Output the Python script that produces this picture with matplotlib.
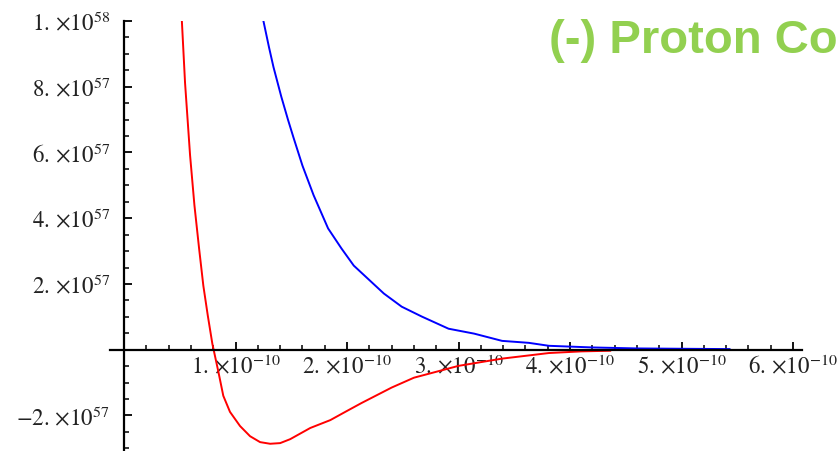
import matplotlib
matplotlib.use('Agg')
import matplotlib.pyplot as plt
from matplotlib.ticker import FixedLocator, FixedFormatter

plt.rcParams['mathtext.fontset'] = 'stix'

# values, x in units of 1e-10, y in units of 1e57
red_x = [0.50, 0.517, 0.547, 0.592, 0.631, 0.673, 0.711, 0.751, 0.792, 0.846, 0.89, 0.95,
         1.04, 1.13, 1.22, 1.31, 1.40, 1.49, 1.67, 1.85, 2.00, 2.13, 2.40, 2.60,
         3.00, 3.39, 3.81, 4.10, 4.36]
red_y = [10.5, 10.1, 8.12, 5.92, 4.40, 3.08, 1.95, 1.04, 0.18, -0.67, -1.40, -1.89,
         -2.32, -2.63, -2.81, -2.86, -2.84, -2.72, -2.38, -2.14, -1.86, -1.62, -1.15, -0.85,
         -0.49, -0.27, -0.10, -0.05, -0.03]

blue_x = [1.24, 1.25, 1.30, 1.34, 1.41, 1.47, 1.52, 1.60, 1.70, 1.83, 1.95, 2.06,
          2.33, 2.49, 2.67, 2.91, 3.14, 3.39, 3.63, 3.81, 4.20, 4.60, 5.00, 5.43]
blue_y = [10.2, 10.0, 9.2, 8.6, 7.7, 7.0, 6.45, 5.6, 4.70, 3.69, 3.08, 2.56,
          1.71, 1.31, 1.01, 0.64, 0.49, 0.27, 0.21, 0.12, 0.07, 0.04, 0.03, 0.02]

xtick_vals = [1, 2, 3, 4, 5, 6]
xtick_labels = [r'$1.\,{\times}10^{-10}$', r'$2.\,{\times}10^{-10}$', r'$3.\,{\times}10^{-10}$',
                r'$4.\,{\times}10^{-10}$', r'$5.\,{\times}10^{-10}$', r'$6.\,{\times}10^{-10}$']
ytick_vals = [-2, 2, 4, 6, 8, 10]
ytick_labels = [r'$-2.\,{\times}10^{57}$', r'$2.\,{\times}10^{57}$', r'$4.\,{\times}10^{57}$',
                r'$6.\,{\times}10^{57}$', r'$8.\,{\times}10^{57}$', r'$1.\,{\times}10^{58}$']

title = '(-) Proton Co'

fig = plt.figure(figsize=(8.39, 4.52), dpi=100)
ax = fig.add_axes([110 / 839, 0.0, 692 / 839, 430 / 452])

ax.plot(blue_x, blue_y, color='#0000ff', lw=1.4)
ax.plot(red_x, red_y, color='#ff0000', lw=1.4)

ax.set_xlim(-0.126, 6.08)
ax.set_ylim(-3.08, 10.0)

for s in ['top', 'right']:
    ax.spines[s].set_visible(False)
ax.spines['left'].set_position(('data', 0))
ax.spines['bottom'].set_position(('data', 0))
ax.spines['left'].set_linewidth(1.6)
ax.spines['bottom'].set_linewidth(1.6)

ax.xaxis.set_major_locator(FixedLocator(xtick_vals))
ax.xaxis.set_major_formatter(FixedFormatter(xtick_labels))
ax.xaxis.set_minor_locator(FixedLocator([v / 5 for v in range(1, 31) if v % 5]))
ax.yaxis.set_major_locator(FixedLocator(ytick_vals))
ax.yaxis.set_major_formatter(FixedFormatter(ytick_labels))
ax.yaxis.set_minor_locator(FixedLocator([v / 2 for v in range(-6, 20) if v % 4 and v]))

ax.tick_params(axis='both', which='major', direction='in', length=6, width=1.3,
               labelsize=16.5, labelcolor='#222222')
ax.tick_params(axis='both', which='minor', direction='in', length=3.5, width=1.1)
ax.tick_params(axis='x', which='major', pad=3)
ax.tick_params(axis='y', which='major', pad=10)

ax.patch.set_alpha(0)
fig.text(549 / 839, 1 - 53 / 452, title, color='#92d050', fontsize=34,
         fontweight='bold', family=['Liberation Sans', 'DejaVu Sans'], va='baseline')

fig.savefig('out.png', dpi=100)
